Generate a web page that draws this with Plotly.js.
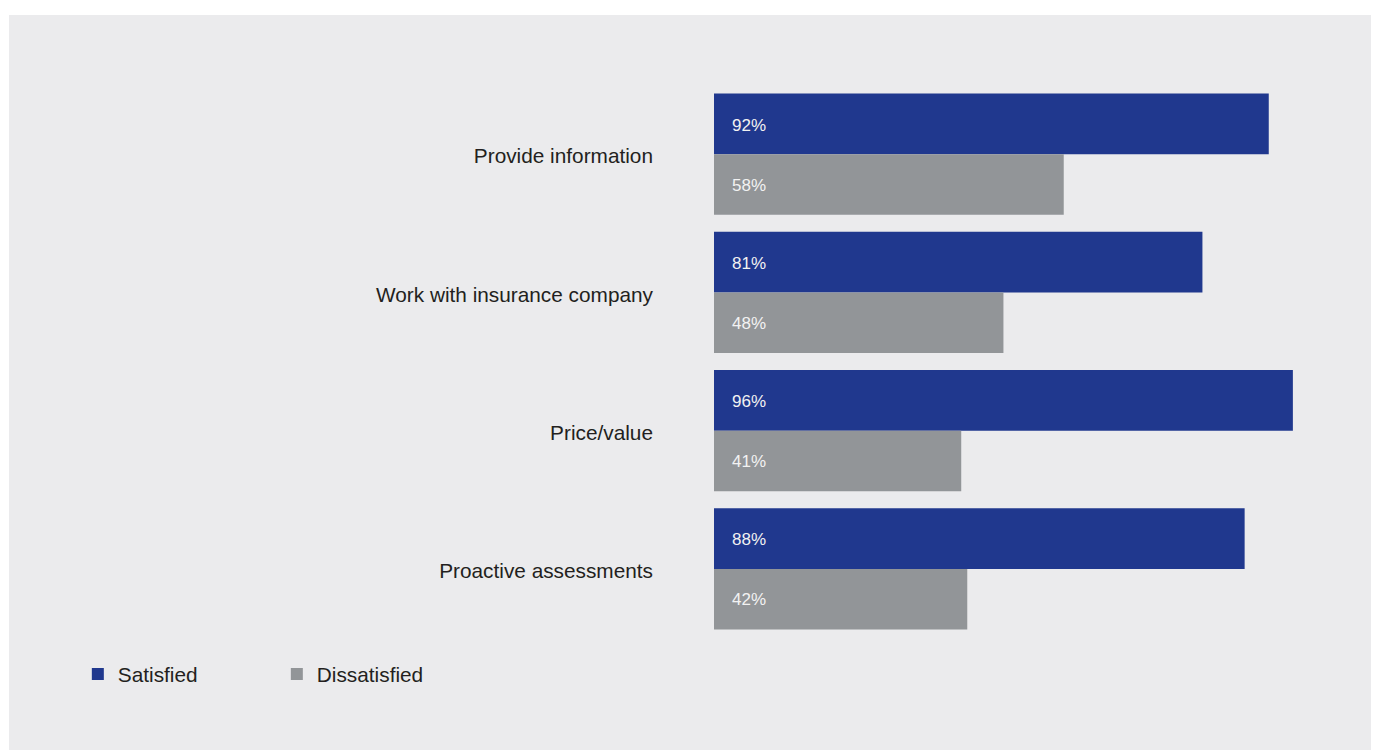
<!DOCTYPE html>
<html>
<head>
<meta charset="utf-8">
<script src="https://cdn.plot.ly/plotly-3.0.1.min.js"></script>
<style>
  html, body { margin: 0; padding: 0; background: #ffffff; }
  #chart { position: absolute; left: 9px; top: 15px; width: 1362px; height: 735px; }
</style>
</head>
<body>
<div id="chart"></div>
<script>
const categories = ["Provide information", "Work with insurance company", "Price/value", "Proactive assessments"];
const satisfied = [92, 81, 96, 88];
const dissatisfied = [58, 48, 41, 42];
const seriesNames = ["Satisfied", "Dissatisfied"];

const BLUE = "#20388e";
const GREY = "#929598";
const FONT = "Liberation Sans, Arial, sans-serif";

const traces = [
  { type: "bar", orientation: "h", name: seriesNames[0], y: categories, x: satisfied,
    marker: { color: BLUE }, hoverinfo: "skip" },
  { type: "bar", orientation: "h", name: seriesNames[1], y: categories, x: dissatisfied,
    marker: { color: GREY }, hoverinfo: "skip" }
];

const annotations = [];
[satisfied, dissatisfied].forEach((vals, si) => {
  vals.forEach((v, i) => {
    annotations.push({
      x: 0, y: categories[i], xref: "x", yref: "y",
      text: v + "%", showarrow: false, xanchor: "left", yanchor: "middle",
      xshift: 16, yshift: si === 0 ? 29 : -31,
      font: { family: FONT, size: 17, color: "#f2f2f2" }
    });
  });
});

const layout = {
  width: 1362, height: 735,
  paper_bgcolor: "#ebebed", plot_bgcolor: "#ebebed",
  margin: { l: 705, r: 54, t: 70, b: 112, pad: 0 },
  barmode: "group", bargap: 0.123, bargroupgap: 0,
  font: { family: FONT, size: 20, color: "#231f20" },
  xaxis: { range: [0, 100], visible: false, fixedrange: true },
  yaxis: { type: "category", autorange: "reversed", showgrid: false, zeroline: false,
           showline: false, ticks: "", ticklabelstandoff: 60, ticklabelshift: -2,
           tickfont: { family: FONT, size: 20.8, color: "#231f20" }, fixedrange: true },
  showlegend: true,
  legend: { orientation: "h", x: -1.055, xanchor: "left", y: -0.066, yanchor: "middle",
            font: { family: FONT, size: 20.8, color: "#231f20" }, entrywidth: 154,
            traceorder: "normal", bgcolor: "rgba(0,0,0,0)" },
  annotations: annotations,
  hovermode: false
};

Plotly.newPlot("chart", traces, layout, { staticPlot: true, displayModeBar: false });
</script>
</body>
</html>
